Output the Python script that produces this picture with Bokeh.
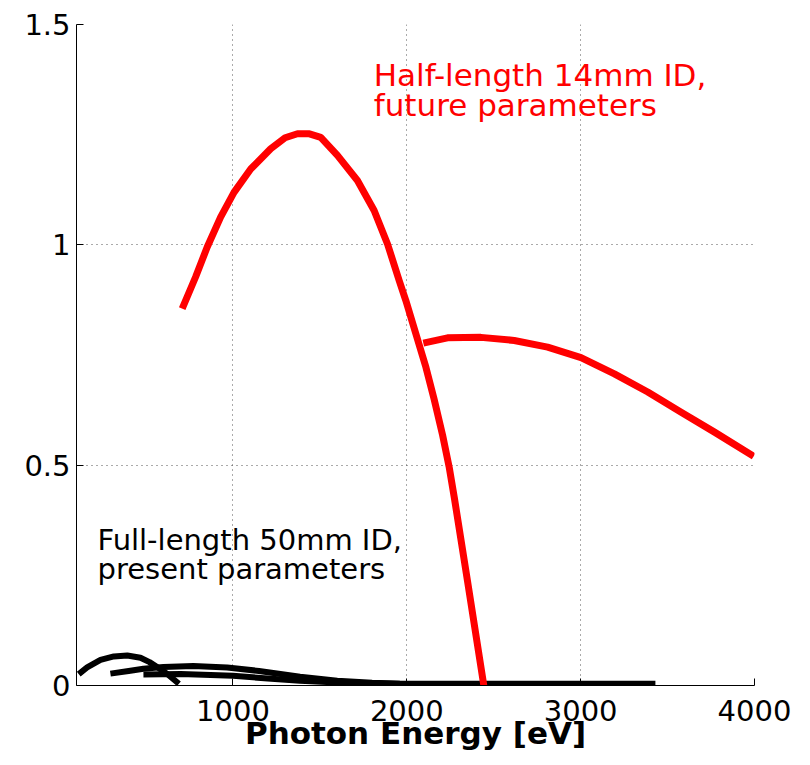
from bokeh.plotting import figure
from bokeh.models import Label, FixedTicker, CustomJSTickFormatter, Range1d
from bokeh.embed import file_html
from bokeh.resources import INLINE

# Red curves (half-length 14mm ID, future parameters)
red1_x = [708, 785, 852, 929, 1006, 1102, 1217, 1300, 1371, 1440, 1505, 1601, 1716, 1812,
          1889, 1956, 1994, 2052, 2110, 2157, 2206, 2244, 2273, 2350, 2443]
red1_y = [0.855, 0.927, 0.995, 1.063, 1.119, 1.172, 1.218, 1.243, 1.252, 1.252, 1.244, 1.203,
          1.146, 1.078, 1.002, 0.919, 0.874, 0.798, 0.722, 0.650, 0.568, 0.495, 0.427, 0.235, 0.0]

red2_x = [2095, 2234, 2426, 2618, 2810, 3002, 3194, 3386, 3578, 3770, 3995]
red2_y = [0.777, 0.789, 0.790, 0.783, 0.768, 0.744, 0.707, 0.666, 0.620, 0.575, 0.520]

# Black curves (full-length 50mm ID, present parameters)
blkA_x = [113, 161, 238, 315, 392, 468, 520, 564, 622, 689]
blkA_y = [0.026, 0.041, 0.058, 0.066, 0.068, 0.063, 0.053, 0.042, 0.026, 0.004]

blkB_x = [295, 400, 485, 600, 772, 967, 1150, 1386, 1600, 1800, 1960]
blkB_y = [0.027, 0.033, 0.038, 0.042, 0.044, 0.041, 0.033, 0.020, 0.011, 0.006, 0.004]

blkC_x = [485, 700, 1000, 1200, 1386, 1600, 1960, 2500, 3000, 3430]
blkC_y = [0.025, 0.026, 0.022, 0.016, 0.011, 0.007, 0.004, 0.004, 0.004, 0.004]

x_ticks = [1000, 2000, 3000, 4000]
y_ticks = [0, 0.5, 1, 1.5]

FONT = "DejaVu Sans"

p = figure(width=809, height=764, output_backend="svg", toolbar_location=None,
           x_range=Range1d(100, 4000), y_range=Range1d(0, 1.5),
           min_border_left=76, min_border_right=55, min_border_top=24, min_border_bottom=79)
p.outline_line_color = None
p.background_fill_color = "white"
p.border_fill_color = "white"

for ax in (p.xaxis[0], p.yaxis[0]):
    ax.axis_line_color = "black"
    ax.axis_line_width = 1
    ax.major_tick_in = 7
    ax.major_tick_out = 0
    ax.major_tick_line_color = "black"
    ax.minor_tick_line_color = None
    ax.major_label_text_font = FONT
    ax.major_label_text_font_size = "29px"
    ax.major_label_text_color = "black"

p.xaxis.ticker = FixedTicker(ticks=x_ticks)
p.yaxis.ticker = FixedTicker(ticks=y_ticks)
p.yaxis.formatter = CustomJSTickFormatter(code="return tick.toString();")
p.xaxis.formatter = CustomJSTickFormatter(code="return tick.toString();")
p.xaxis.major_label_standoff = 14
p.yaxis.major_label_standoff = 6

p.xaxis.axis_label = "Photon Energy [eV]"
p.xaxis.axis_label_text_font = FONT
p.xaxis.axis_label_text_font_style = "bold"
p.xaxis.axis_label_text_font_size = "31px"
p.xaxis.axis_label_text_color = "black"
p.xaxis.axis_label_standoff = -9

p.xgrid.ticker = FixedTicker(ticks=x_ticks)
p.ygrid.ticker = FixedTicker(ticks=[0.5, 1, 1.5])
for g in (p.xgrid[0], p.ygrid[0]):
    g.grid_line_color = "#555555"
    g.grid_line_dash = "1 4"
    g.grid_line_width = 1

p.line(blkA_x, blkA_y, line_color="black", line_width=6, line_join="round")
p.line(blkB_x, blkB_y, line_color="black", line_width=6, line_join="round")
p.line(blkC_x, blkC_y, line_color="black", line_width=6, line_join="round")
p.line(red1_x, red1_y, line_color="#ff0000", line_width=7, line_join="round")
p.line(red2_x, red2_y, line_color="#ff0000", line_width=7, line_join="round")

def lab(x, y, t, color, size):
    p.add_layout(Label(x=x, y=y, text=t, text_color=color, text_font=FONT,
                       text_font_size=size, text_baseline="alphabetic", text_align="left"))

lab(1810, 1.386, "Half-length 14mm ID,", "#ff0000", "31px")
lab(1810, 1.318, "future parameters", "#ff0000", "31px")
lab(221, 0.331, "Full-length 50mm ID,", "black", "29px")
lab(221, 0.265, "present parameters", "black", "29px")

open("out.html", "w").write(file_html(p, INLINE))
